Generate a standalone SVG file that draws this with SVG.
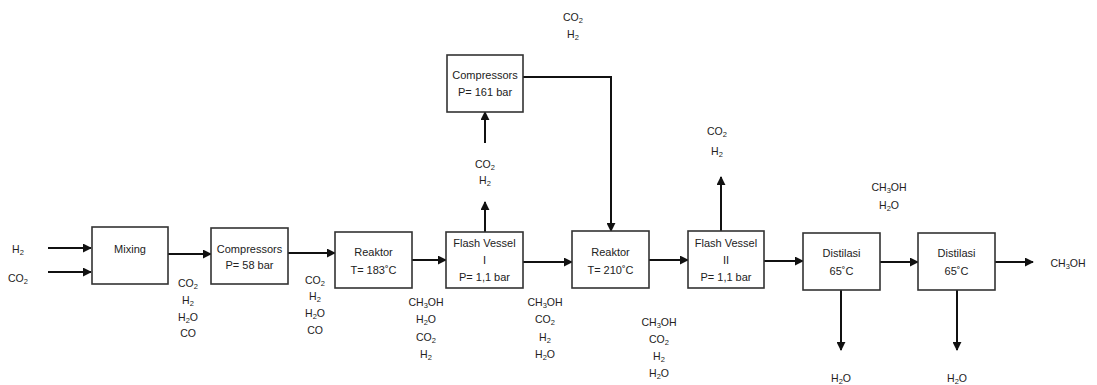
<svg xmlns="http://www.w3.org/2000/svg" width="1097" height="385" viewBox="0 0 1097 385">
<defs>
<style>
.box{fill:#fff;stroke:#333;stroke-width:1.6}
.t{font-family:"Liberation Sans",Arial,sans-serif;font-size:11px;fill:#222;text-anchor:middle}
.lbl{font-family:"Liberation Sans",Arial,sans-serif;font-size:10.5px;fill:#222;text-anchor:middle}
.sub{font-size:7.5px}
.c{fill:none;stroke:#111;stroke-width:2;marker-end:url(#ah)}
</style>
<marker id="ah" viewBox="0 0 10 10" refX="9" refY="5" markerWidth="4.5" markerHeight="4.5" orient="auto" markerUnits="strokeWidth">
<path d="M0,0 L10,5 L0,10 z" fill="#111"/>
</marker>
</defs>
<rect width="1097" height="385" fill="#fff"/>

<g id="connectors">
<path class="c" d="M48,248 H91"/>
<path class="c" d="M48,272 H91"/>
<path class="c" d="M168,254 H211"/>
<path class="c" d="M288,253 H335"/>
<path class="c" d="M412,260 H446"/>
<path class="c" d="M523,262 H572"/>
<path class="c" d="M485,232 V202"/>
<path class="c" d="M485,143 V112"/>
<path class="c" d="M523,77 H611 V231"/>
<path class="c" d="M649,260 H688"/>
<path class="c" d="M721,231 V177"/>
<path class="c" d="M764,261 H803"/>
<path class="c" d="M880,262 H918"/>
<path class="c" d="M995,262 H1033"/>
<path class="c" d="M841,290 V350"/>
<path class="c" d="M957,290 V350"/>
</g>

<g id="mixing">
<rect class="box" x="92" y="227" width="76" height="57"/>
<text class="t" x="130" y="253">Mixing</text>
</g>
<g id="compressor1">
<rect class="box" x="211" y="228" width="77" height="56"/>
<text class="t" x="249.5" y="253">Compressors</text>
<text class="t" x="249.5" y="269">P= 58 bar</text>
</g>
<g id="reaktor1">
<rect class="box" x="335" y="232" width="77" height="56"/>
<text class="t" x="373.5" y="256">Reaktor</text>
<text class="t" x="373.5" y="274">T= 183˚C</text>
</g>
<g id="flash1">
<rect class="box" x="446" y="232" width="77" height="56"/>
<text class="t" x="484.5" y="247">Flash Vessel</text>
<text class="t" x="484.5" y="264">I</text>
<text class="t" x="484.5" y="281">P= 1,1 bar</text>
</g>
<g id="compressor2">
<rect class="box" x="447" y="55" width="76" height="57"/>
<text class="t" x="485" y="79">Compressors</text>
<text class="t" x="485" y="96">P= 161 bar</text>
</g>
<g id="reaktor2">
<rect class="box" x="572" y="231" width="77" height="57"/>
<text class="t" x="610.5" y="256">Reaktor</text>
<text class="t" x="610.5" y="274">T= 210˚C</text>
</g>
<g id="flash2">
<rect class="box" x="688" y="231" width="76" height="57"/>
<text class="t" x="726" y="247">Flash Vessel</text>
<text class="t" x="726" y="264">II</text>
<text class="t" x="726" y="281">P= 1,1 bar</text>
</g>
<g id="distilasi1">
<rect class="box" x="803" y="233" width="77" height="57"/>
<text class="t" x="841.5" y="257">Distilasi</text>
<text class="t" x="841.5" y="275">65˚C</text>
</g>
<g id="distilasi2">
<rect class="box" x="918" y="233" width="77" height="57"/>
<text class="t" x="956.5" y="257">Distilasi</text>
<text class="t" x="956.5" y="275">65˚C</text>
</g>

<g id="labels">
<text class="lbl" x="18" y="253">H<tspan class="sub" dy="1.5">2</tspan></text>
<text class="lbl" x="18" y="282">CO<tspan class="sub" dy="1.5">2</tspan></text>

<text class="lbl" x="188" y="287">CO<tspan class="sub" dy="1.5">2</tspan></text>
<text class="lbl" x="188" y="304">H<tspan class="sub" dy="1.5">2</tspan></text>
<text class="lbl" x="188" y="321">H<tspan class="sub" dy="1.5">2</tspan><tspan dy="-1.5">O</tspan></text>
<text class="lbl" x="188" y="337">CO</text>

<text class="lbl" x="315" y="284">CO<tspan class="sub" dy="1.5">2</tspan></text>
<text class="lbl" x="315" y="300">H<tspan class="sub" dy="1.5">2</tspan></text>
<text class="lbl" x="315" y="317">H<tspan class="sub" dy="1.5">2</tspan><tspan dy="-1.5">O</tspan></text>
<text class="lbl" x="315" y="334">CO</text>

<text class="lbl" x="426" y="306">CH<tspan class="sub" dy="1.5">3</tspan><tspan dy="-1.5">OH</tspan></text>
<text class="lbl" x="426" y="323">H<tspan class="sub" dy="1.5">2</tspan><tspan dy="-1.5">O</tspan></text>
<text class="lbl" x="426" y="341">CO<tspan class="sub" dy="1.5">2</tspan></text>
<text class="lbl" x="426" y="358">H<tspan class="sub" dy="1.5">2</tspan></text>

<text class="lbl" x="545" y="306">CH<tspan class="sub" dy="1.5">3</tspan><tspan dy="-1.5">OH</tspan></text>
<text class="lbl" x="545" y="323">CO<tspan class="sub" dy="1.5">2</tspan></text>
<text class="lbl" x="545" y="341">H<tspan class="sub" dy="1.5">2</tspan></text>
<text class="lbl" x="545" y="358">H<tspan class="sub" dy="1.5">2</tspan><tspan dy="-1.5">O</tspan></text>

<text class="lbl" x="485" y="168">CO<tspan class="sub" dy="1.5">2</tspan></text>
<text class="lbl" x="485" y="184">H<tspan class="sub" dy="1.5">2</tspan></text>

<text class="lbl" x="573" y="21">CO<tspan class="sub" dy="1.5">2</tspan></text>
<text class="lbl" x="573" y="38">H<tspan class="sub" dy="1.5">2</tspan></text>

<text class="lbl" x="659" y="326">CH<tspan class="sub" dy="1.5">3</tspan><tspan dy="-1.5">OH</tspan></text>
<text class="lbl" x="659" y="343">CO<tspan class="sub" dy="1.5">2</tspan></text>
<text class="lbl" x="659" y="360">H<tspan class="sub" dy="1.5">2</tspan></text>
<text class="lbl" x="659" y="377">H<tspan class="sub" dy="1.5">2</tspan><tspan dy="-1.5">O</tspan></text>

<text class="lbl" x="717" y="135">CO<tspan class="sub" dy="1.5">2</tspan></text>
<text class="lbl" x="717" y="155">H<tspan class="sub" dy="1.5">2</tspan></text>

<text class="lbl" x="889" y="191">CH<tspan class="sub" dy="1.5">3</tspan><tspan dy="-1.5">OH</tspan></text>
<text class="lbl" x="889" y="209">H<tspan class="sub" dy="1.5">2</tspan><tspan dy="-1.5">O</tspan></text>

<text class="lbl" x="1068" y="267">CH<tspan class="sub" dy="1.5">3</tspan><tspan dy="-1.5">OH</tspan></text>

<text class="lbl" x="841" y="382">H<tspan class="sub" dy="1.5">2</tspan><tspan dy="-1.5">O</tspan></text>
<text class="lbl" x="957" y="382">H<tspan class="sub" dy="1.5">2</tspan><tspan dy="-1.5">O</tspan></text>
</g>
</svg>
